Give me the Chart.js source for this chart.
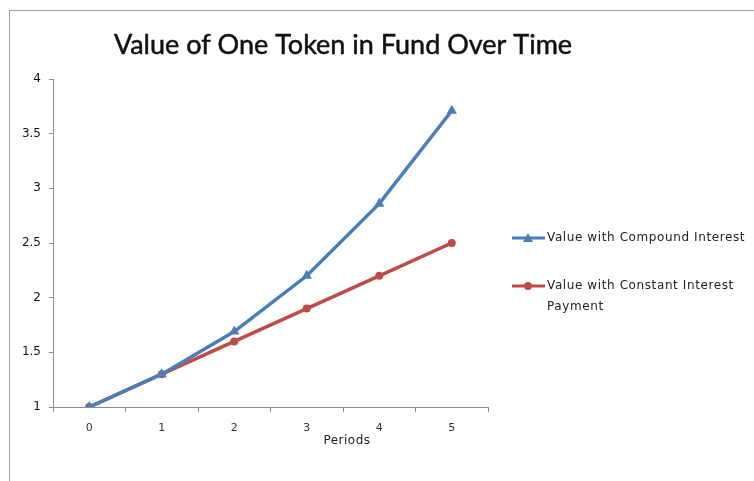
<!DOCTYPE html>
<html>
<head>
<meta charset="utf-8">
<script src="https://cdn.jsdelivr.net/npm/chart.js@4.4.0/dist/chart.umd.min.js"></script>
<style>
  html, body { margin: 0; padding: 0; background: #fff; }
  #wrap { width: 754px; height: 481px; position: relative; }
</style>
</head>
<body>
<div id="wrap"><canvas id="tokenChart" width="754" height="481"></canvas></div>
<script>
// periods and the two series
const periods = ['0', '1', '2', '3', '4', '5'];
const compoundValues = [1, 1.3, 1.69, 2.2, 2.86, 3.71];
const constantValues = [1, 1.3, 1.6, 1.9, 2.2, 2.5];
const yTicks = [1, 1.5, 2, 2.5, 3, 3.5, 4];

const blue = '#4a7ebb';
const red = '#be4b48';
const axisGray = '#8c8c8c';

// frame, title, axis title and the right-hand legend
const decorPlugin = {
    id: 'decor',
    beforeDraw(chart) {
        const ctx = chart.ctx;
        ctx.save();
        ctx.fillStyle = '#fff';
        ctx.fillRect(0, 0, chart.width, chart.height);
        ctx.strokeStyle = '#a0a0a0';
        ctx.lineWidth = 1;
        ctx.strokeRect(9.5, 10.5, 800, 500);
        ctx.restore();
    },
    afterDraw(chart) {
        const ctx = chart.ctx;
        ctx.save();
        ctx.fillStyle = '#111';
        ctx.strokeStyle = '#111';
        ctx.lineWidth = 0.5;
        ctx.font = '27px Lato';
        ctx.textAlign = 'center';
        ctx.textBaseline = 'middle';
        ctx.fillText('Value of One Token in Fund Over Time', 343, 45);
        ctx.strokeText('Value of One Token in Fund Over Time', 343, 45);

        ctx.font = '12px "DejaVu Sans"';
        ctx.fillStyle = '#222';
        ctx.letterSpacing = '0.5px';
        ctx.fillText('Periods', 347, 441);

        // legend
        const items = [
            { color: blue, shape: 'triangle', lines: ['Value with Compound Interest'], y: 238 },
            { color: red, shape: 'circle', lines: ['Value with Constant Interest', 'Payment'], y: 286 }
        ];
        ctx.font = '12px "DejaVu Sans"';
        ctx.letterSpacing = '0.6px';
        ctx.textAlign = 'left';
        items.forEach(it => {
            ctx.strokeStyle = it.color;
            ctx.fillStyle = it.color;
            ctx.lineWidth = 3;
            ctx.beginPath();
            ctx.moveTo(512, it.y);
            ctx.lineTo(545, it.y);
            ctx.stroke();
            ctx.beginPath();
            if (it.shape === 'triangle') {
                ctx.moveTo(528, it.y - 5);
                ctx.lineTo(533, it.y + 4);
                ctx.lineTo(523, it.y + 4);
                ctx.closePath();
            } else {
                ctx.arc(528, it.y, 4, 0, Math.PI * 2);
            }
            ctx.fill();
            ctx.fillStyle = '#222';
            it.lines.forEach((l, i) => ctx.fillText(l, 547, it.y + i * 21));
        });
        ctx.restore();
    }
};

new Chart(document.getElementById('tokenChart'), {
    type: 'line',
    data: {
        labels: periods,
        datasets: [{
            label: 'Value with Compound Interest',
            data: compoundValues,
            borderColor: blue,
            backgroundColor: blue,
            borderWidth: 3.5,
            pointStyle: 'triangle',
            pointRadius: 6,
            pointBorderWidth: 0,
            tension: 0
        }, {
            label: 'Value with Constant Interest Payment',
            data: constantValues,
            borderColor: red,
            backgroundColor: red,
            borderWidth: 3.5,
            pointStyle: 'circle',
            pointRadius: 4,
            pointBorderWidth: 0,
            tension: 0
        }]
    },
    options: {
        responsive: false,
        animation: false,
        layout: { padding: { left: 0, top: 79, right: 266, bottom: 44 } },
        plugins: {
            legend: { display: false },
            title: { display: false },
            tooltip: { enabled: false }
        },
        scales: {
            x: {
                offset: true,
                grid: {
                    offset: true,
                    drawOnChartArea: false,
                    tickLength: 5,
                    color: axisGray
                },
                border: { color: axisGray, width: 1 },
                ticks: {
                    color: '#333',
                    font: { family: 'DejaVu Sans', size: 11 },
                    padding: 10,
                    maxRotation: 0
                },
                afterFit(scale) { scale.height = 30; }
            },
            y: {
                min: 1,
                max: 4,
                afterBuildTicks(scale) { scale.ticks = yTicks.map(v => ({ value: v })); },
                grid: {
                    drawOnChartArea: false,
                    tickLength: 4,
                    color: axisGray
                },
                border: { color: axisGray, width: 1 },
                ticks: {
                    color: '#111',
                    font: { family: 'DejaVu Sans', size: 12 },
                    padding: 8,
                    callback: v => String(v)
                },
                afterFit(scale) { scale.width = 53; }
            }
        }
    },
    plugins: [decorPlugin]
});
</script>
</body>
</html>
